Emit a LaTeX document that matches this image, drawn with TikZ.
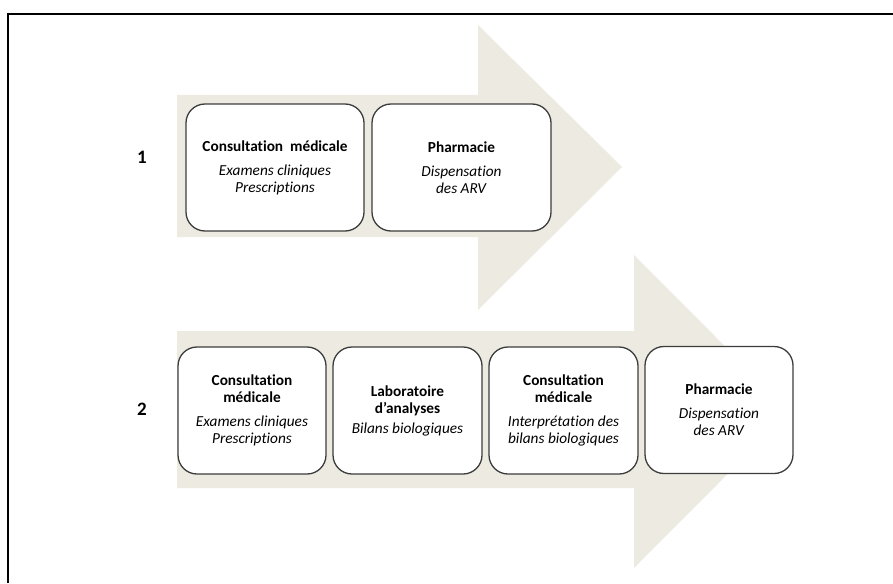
\documentclass[tikz,border=0pt]{standalone}
\usepackage{fontspec}
\setmainfont{Carlito}[Ligatures=NoCommon]
\definecolor{arrowfill}{HTML}{EDEBE1}
\definecolor{boxline}{HTML}{3C3C3C}
\tikzset{
  bigarrow/.style={fill=arrowfill, draw=none},
  stepbox/.style={draw=boxline, line width=1.3pt, fill=white, rounded corners=19pt,
    minimum width=#1, minimum height=127pt, inner sep=0pt, align=center,
    font=\fontsize{15.3}{17}\selectfont},
  stepbox/.default=148pt,
  numlabel/.style={font=\bfseries\fontsize{19}{21}\selectfont},
  frameline/.style={draw=black, line width=1.2pt}
}
\begin{document}
\begin{tikzpicture}[x=1pt,y=-1pt]
\useasboundingbox (0,0) rectangle (893,583);
% frame
\draw[frameline] (8,583) -- (8,14) -- (893,14);
% arrows
\fill[bigarrow] (177,95) -- (478,95) -- (478,25) -- (622,167) -- (478,310) -- (478,237) -- (177,237) -- cycle;
\fill[bigarrow] (177,331) -- (634,331) -- (634,255) -- (790,411.5) -- (634,568) -- (634,488) -- (177,488) -- cycle;
% labels
\node[numlabel] (n1) at (142,157) {1};
\node[numlabel] (n2) at (142,409) {2};
% row 1
\node[stepbox=178pt] (a1) at (275,167.5) {\textbf{Consultation\ \ médicale}\\[7pt]\textit{Examens cliniques}\\\textit{Prescriptions}};
\node[stepbox=179pt] (a2) at (461.5,167.5) {\textbf{Pharmacie}\\[7pt]\textit{Dispensation}\\\textit{des ARV}};
% row 2
\node[stepbox=148pt] (b1) at (252,410.5) {\textbf{Consultation}\\\textbf{médicale}\\[7pt]\textit{Examens cliniques}\\\textit{Prescriptions}};
\node[stepbox=149pt] (b2) at (407.5,410.5) {\textbf{Laboratoire}\\\textbf{d’analyses}\\[3pt]\textit{Bilans biologiques}};
\node[stepbox=149pt] (b3) at (563.5,410.5) {\textbf{Consultation}\\\textbf{médicale}\\[7pt]\textit{Interprétation des}\\\textit{bilans biologiques}};
\node[stepbox=148pt] (b4) at (719,410) {\textbf{Pharmacie}\\[7pt]\textit{Dispensation}\\\textit{des ARV}};
\end{tikzpicture}
\end{document}
